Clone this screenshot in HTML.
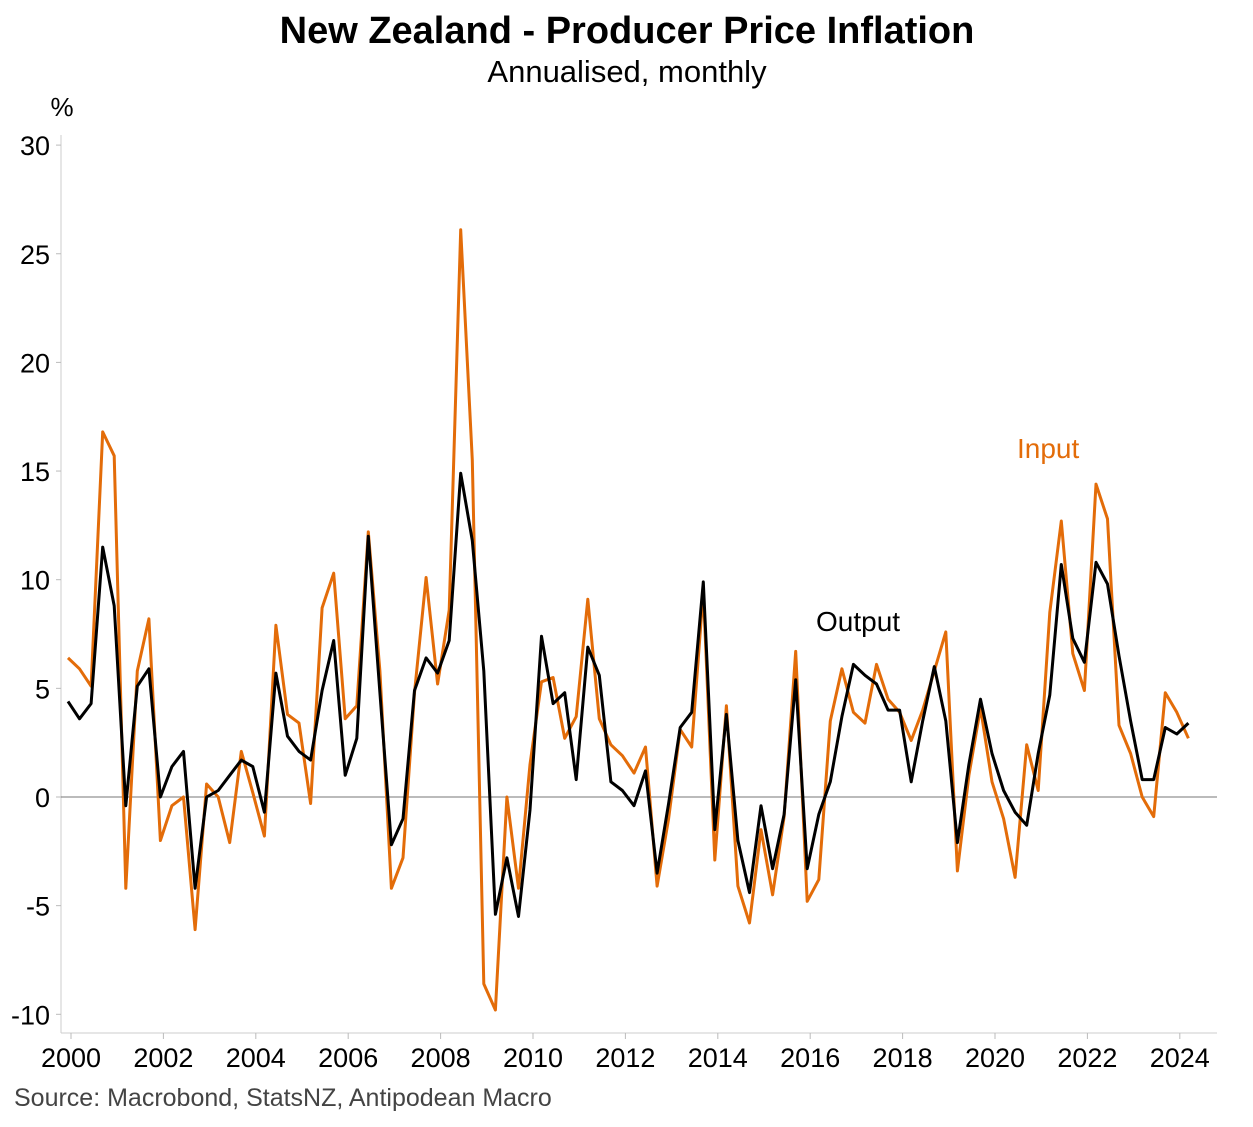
<!DOCTYPE html>
<html><head><meta charset="utf-8"><style>
body{margin:0;background:#fff;font-family:"Liberation Sans",sans-serif;}
svg text{font-family:"Liberation Sans",sans-serif;}
</style></head><body>
<svg id="chart" width="1253" height="1122" xmlns="http://www.w3.org/2000/svg">
<text x="627" y="43" text-anchor="middle" font-size="38" font-weight="bold">New Zealand - Producer Price Inflation</text>
<text x="627" y="82" text-anchor="middle" font-size="31">Annualised, monthly</text>
<text x="62" y="116" text-anchor="middle" font-size="26">%</text>
<text x="14" y="1106" font-size="25" fill="#444">Source: Macrobond, StatsNZ, Antipodean Macro</text>
<g id="axes"></g>
<g id="series"></g>
<text x="1017" y="458" font-size="28" fill="#e36c09">Input</text>
<text x="816" y="631" font-size="28" fill="#000">Output</text>
</svg>
<script>
const yTicks=[30,25,20,15,10,5,0,-5,-10];
const yearTicks=[2000,2002,2004,2006,2008,2010,2012,2014,2016,2018,2020,2022,2024];
const inputSeries=[6.4,5.9,5.1,16.8,15.7,-4.2,5.8,8.2,-2.0,-0.4,0,-6.1,0.6,0,-2.1,2.1,0.2,-1.8,7.9,3.8,3.4,-0.3,8.7,10.3,3.6,4.2,12.2,5.8,-4.2,-2.8,4.8,10.1,5.2,8.6,26.1,15.5,-8.6,-9.8,0,-4.2,1.5,5.3,5.5,2.7,3.7,9.1,3.6,2.4,1.9,1.1,2.3,-4.1,-1.0,3.1,2.3,9.5,-2.9,4.2,-4.1,-5.8,-1.5,-4.5,-0.9,6.7,-4.8,-3.8,3.5,5.9,3.9,3.4,6.1,4.5,3.9,2.6,4.0,5.8,7.6,-3.4,1.0,4.1,0.7,-1.0,-3.7,2.4,0.3,8.5,12.7,6.6,4.9,14.4,12.8,3.3,2.0,0,-0.9,4.8,3.9,2.7];
const outputSeries=[4.4,3.6,4.3,11.5,8.8,-0.4,5.1,5.9,0.0,1.4,2.1,-4.2,0,0.3,1.0,1.7,1.4,-0.7,5.7,2.8,2.1,1.7,4.9,7.2,1.0,2.7,12.0,4.8,-2.2,-1.0,4.9,6.4,5.7,7.2,14.9,11.8,5.8,-5.4,-2.8,-5.5,-0.6,7.4,4.3,4.8,0.8,6.9,5.6,0.7,0.3,-0.4,1.2,-3.5,-0.3,3.2,3.9,9.9,-1.5,3.8,-2.0,-4.4,-0.4,-3.3,-0.8,5.4,-3.3,-0.8,0.7,3.7,6.1,5.6,5.2,4.0,4.0,0.7,3.5,6.0,3.5,-2.1,1.5,4.5,2.0,0.3,-0.7,-1.3,2.0,4.7,10.7,7.3,6.2,10.8,9.8,6.5,3.5,0.8,0.8,3.2,2.9,3.4];
const startYear=2000;
const NS='http://www.w3.org/2000/svg';
function yS(v){return 797-v*21.73;}
function xS(t){return 68+46.2*(t-2000);}
function mk(tag,attrs,parent){const e=document.createElementNS(NS,tag);for(const k in attrs)e.setAttribute(k,attrs[k]);parent.appendChild(e);return e;}
const ax=document.getElementById('axes');
const yl=mk('line',{x1:61,y1:135,x2:61,y2:1033,stroke:'#ccc','stroke-width':1},ax);


yTicks.forEach(v=>{
 const t=mk('line',{x1:56,y1:yS(v),x2:61,y2:yS(v),stroke:'#bbb'},ax);
 
 
 const l=mk('text',{x:50,y:yS(v)+10,'text-anchor':'end','font-size':27},ax);
 l.textContent=v;
 
 
});
const z=mk('line',{x1:61,y1:yS(0),x2:1217,y2:yS(0),stroke:'#777','stroke-width':1},ax);


const xl=mk('line',{x1:61,y1:1033,x2:1217,y2:1033,stroke:'#ccc'},ax);


yearTicks.forEach(y=>{
 const x=xS(y)+3;
 const t=mk('line',{x1:x,y1:1033,x2:x,y2:1039,stroke:'#bbb'},ax);
 
 
 const l=mk('text',{x:x,y:1067,'text-anchor':'middle','font-size':27},ax);
 l.textContent=y;
 
 
});
const sg=document.getElementById('series');
function pts(a){return a.map((v,i)=>xS(startYear+i*0.25).toFixed(1)+','+yS(v).toFixed(1)).join(' ');}
const pi=mk('polyline',{points:pts(inputSeries),fill:'none',stroke:'#e36c09','stroke-width':3,'stroke-linejoin':'round'},sg);


const po=mk('polyline',{points:pts(outputSeries),fill:'none',stroke:'#000','stroke-width':3,'stroke-linejoin':'round'},sg);


</script>
</body></html>
